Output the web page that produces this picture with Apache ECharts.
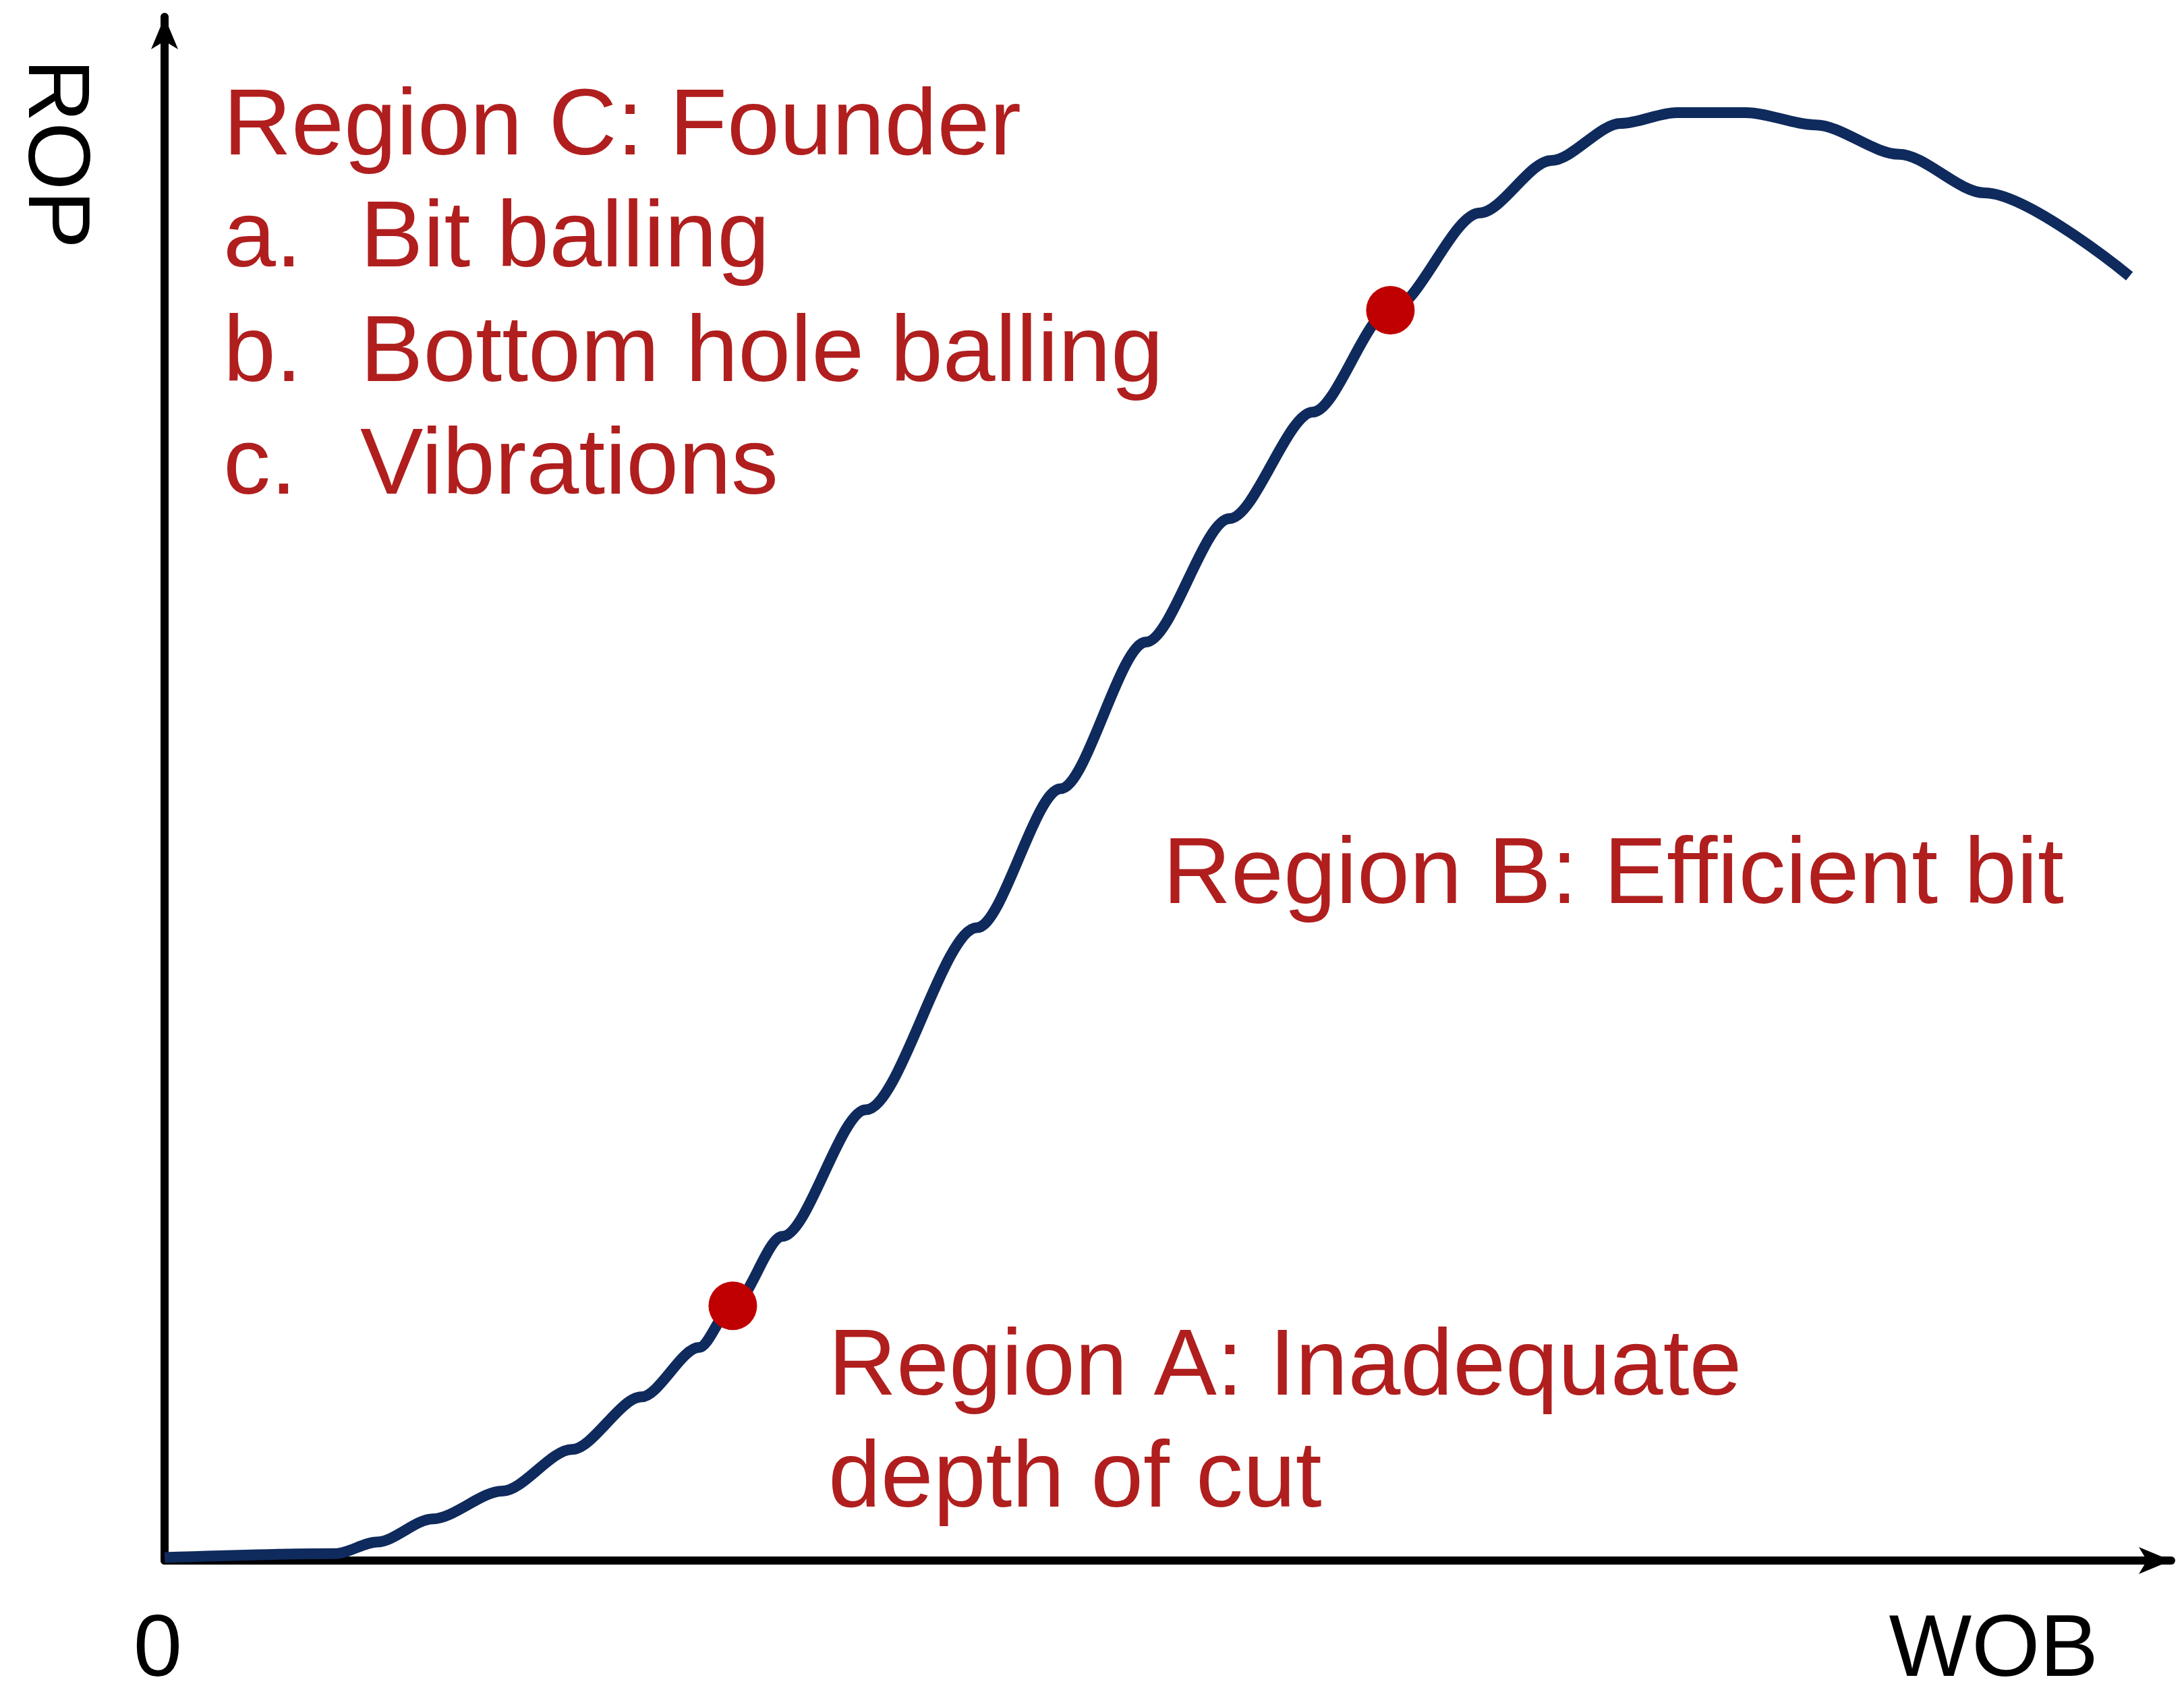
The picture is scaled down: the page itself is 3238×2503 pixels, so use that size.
<!DOCTYPE html>
<html>
<head>
<meta charset="utf-8">
<script src="https://cdn.jsdelivr.net/npm/echarts@6/dist/echarts.min.js"></script>
<style>html,body{margin:0;padding:0;background:#fff}#chart{width:3238px;height:2503px}</style>
</head>
<body>
<div id="chart"></div>
<script>
( () => {
    const curveX = [0, 8.6, 10.7, 13.5, 17, 20.5, 24, 26.9, 28.6, 31.1, 35.3, 40.9, 45.1, 49.4, 53.6, 57.8, 61.7, 66.2, 69.8, 73.3, 76.1, 79.6, 83.1, 87.3, 91.6, 98.9];
    const curveY = [0.2, 0.45, 1.2, 2.7, 4.5, 7.2, 10.6, 13.8, 16.5, 21, 29.2, 41, 50, 59.5, 67.5, 74.4, 81, 87.3, 90.7, 93.1, 93.8, 93.8, 93.0, 91.1, 88.6, 83.2];
    const markX = [28.6, 61.7];
    const markY = [16.5, 81];

    const red = '#B01E1E';
    const font = '"Liberation Sans", Arial, sans-serif';
    const chart = echarts.init( document.getElementById( 'chart' ), null, { renderer: 'canvas' } );

    const txt = ( text, x, y, opts ) => ( {
        type: 'text', x: x, y: y, rotation: ( opts && opts.rotation ) || 0,
        style: {
            text: text, fill: ( opts && opts.fill ) || red, font: ( ( opts && opts.size ) || 140 ) + 'px ' + font,
            textAlign: ( opts && opts.align ) || 'left', textVerticalAlign: 'middle'
        }
    } );

    const axisLine = {
        show: true, symbol: [ 'none', 'arrow' ], symbolSize: [ 30, 48 ],
        lineStyle: { color: '#000', width: 12 }
    };

    chart.setOption( {
        animation: false,
        grid: { left: 244, right: 19, top: 25, bottom: 189 },
        xAxis: {
            type: 'value', min: 0, max: 101,
            axisLine: axisLine, axisTick: { show: false }, axisLabel: { show: false }, splitLine: { show: false }
        },
        yAxis: {
            type: 'value', min: 0, max: 100,
            axisLine: axisLine, axisTick: { show: false }, axisLabel: { show: false }, splitLine: { show: false }
        },
        series: [
            {
                type: 'line', smooth: 0.3, smoothMonotone: 'x', showSymbol: false,
                lineStyle: { color: '#0F2A5C', width: 16 },
                data: curveX.map( ( x, i ) => [ x, curveY[ i ] ] ),
                z: 2
            },
            {
                type: 'scatter', symbolSize: 72,
                itemStyle: { color: '#C00000', opacity: 1 },
                data: markX.map( ( x, i ) => [ x, markY[ i ] ] ),
                z: 3
            }
        ],
        graphic: [
            txt( 'Region C: Founder', 331, 190 ),
            txt( 'a.', 331, 356 ), txt( 'Bit balling', 534, 356 ),
            txt( 'b.', 331, 526 ), txt( 'Bottom hole balling', 534, 526 ),
            txt( 'c.', 331, 693 ), txt( 'Vibrations', 534, 693 ),
            txt( 'Region B: Efficient bit', 1724, 1300 ),
            txt( 'Region A: Inadequate', 1228, 2029 ),
            txt( 'depth of cut', 1228, 2195 ),
            txt( 'ROP', 79, 228, { fill: '#000', size: 130, align: 'center', rotation: -Math.PI / 2 } ),
            txt( 'WOB', 3111, 2449, { fill: '#000', size: 130, align: 'right' } ),
            txt( '0', 234, 2449, { fill: '#000', size: 130, align: 'center' } )
        ]
    } );
} ) ();
</script>
</body>
</html>
